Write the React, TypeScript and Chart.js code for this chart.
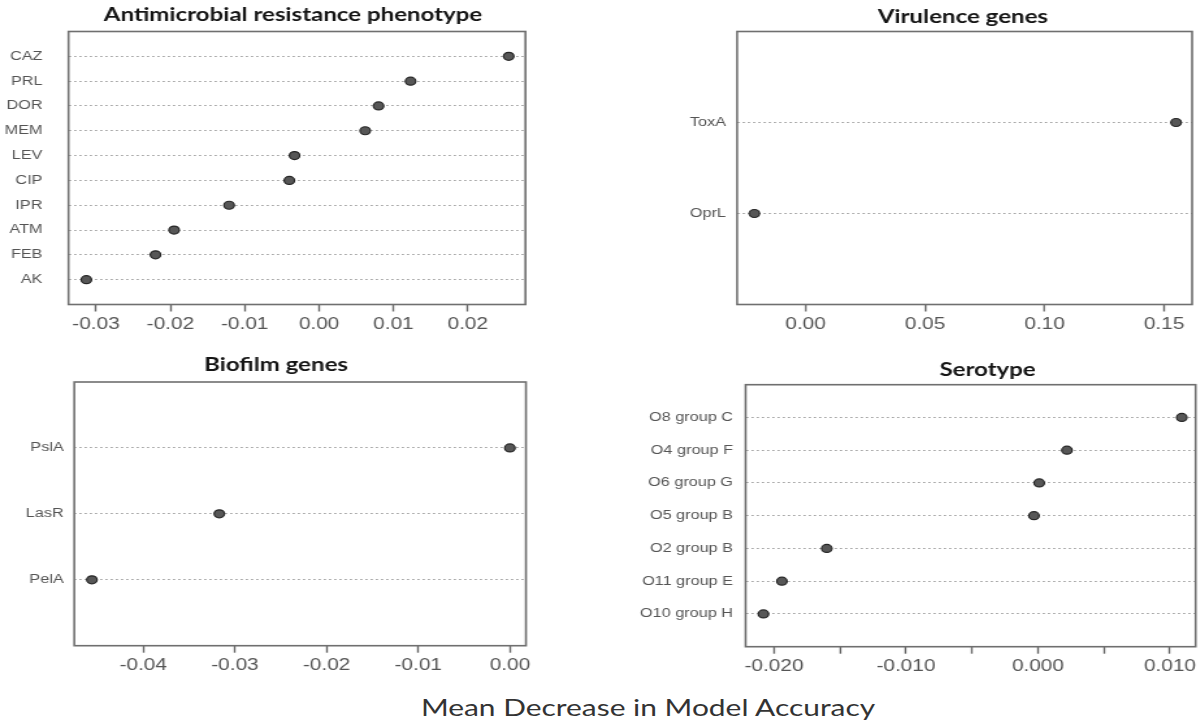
import React, { useEffect, useRef } from 'react';
import { Chart, registerables } from 'chart.js';

Chart.register(...registerables);

// The reference figure is stretched horizontally; we draw narrower and stretch with CSS.
const SX = 1.3;

// ---------- data ----------
const amrLabels = ['CAZ', 'PRL', 'DOR', 'MEM', 'LEV', 'CIP', 'IPR', 'ATM', 'FEB', 'AK'];
const amrValues = [0.0255, 0.0123, 0.008, 0.0062, -0.0033, -0.004, -0.0121, -0.0195, -0.022, -0.0313];
const amrTicks = [-0.03, -0.02, -0.01, 0, 0.01, 0.02];
const amrTickLabels = ['-0.03', '-0.02', '-0.01', '0.00', '0.01', '0.02'];

const virLabels = ['ToxA', 'OprL'];
const virValues = [0.155, -0.0214];
const virTicks = [0, 0.05, 0.1, 0.15];
const virTickLabels = ['0.00', '0.05', '0.10', '0.15'];

const bioLabels = ['PslA', 'LasR', 'PelA'];
const bioValues = [0.0, -0.0317, -0.0456];
const bioTicks = [-0.04, -0.03, -0.02, -0.01, 0];
const bioTickLabels = ['-0.04', '-0.03', '-0.02', '-0.01', '0.00'];

const serLabels = ['O8 group C', 'O4 group F', 'O6 group G', 'O5 group B', 'O2 group B', 'O11 group E', 'O10 group H'];
const serValues = [0.0109, 0.0022, 0.0001, -0.0003, -0.016, -0.0194, -0.0208];
const serTicks = [-0.02, -0.015, -0.01, -0.005, 0, 0.005, 0.01];
const serTickLabels = ['-0.020', '', '-0.010', '', '0.000', '', '0.010'];

const xAxisTitle = 'Mean Decrease in Model Accuracy';

// ---------- layout (page coordinates, stretched space) ----------
type PanelCfg = {
  title: string;
  labels: string[];
  values: number[];
  ticks: number[];
  tickLabels: string[];
  xMin: number;
  xMax: number;
  region: { x: number; y: number; w: number; h: number };
  box: { left: number; top: number; right: number; bottom: number };
  titleX: number;
  titleY: number;
  labelGap: number;
};

const panels: PanelCfg[] = [
  {
    title: 'Antimicrobial resistance phenotype',
    labels: amrLabels, values: amrValues, ticks: amrTicks, tickLabels: amrTickLabels,
    xMin: -0.0337, xMax: 0.02775,
    region: { x: 0, y: 0, w: 580, h: 345 },
    box: { left: 68.5, top: 31.5, right: 525.5, bottom: 304.5 },
    titleX: 293, titleY: 15, labelGap: 26,
  },
  {
    title: 'Virulence genes',
    labels: virLabels, values: virValues, ticks: virTicks, tickLabels: virTickLabels,
    xMin: -0.02865, xMax: 0.1617,
    region: { x: 620, y: 0, w: 582, h: 345 },
    box: { left: 736.7, top: 31.5, right: 1190.7, bottom: 304.5 },
    titleX: 962, titleY: 17, labelGap: 11,
  },
  {
    title: 'Biofilm genes',
    labels: bioLabels, values: bioValues, ticks: bioTicks, tickLabels: bioTickLabels,
    xMin: -0.04752, xMax: 0.00175,
    region: { x: 0, y: 345, w: 580, h: 345 },
    box: { left: 74.3, top: 382, right: 526, bottom: 645.7 },
    titleX: 276, titleY: 365, labelGap: 10.6,
  },
  {
    title: 'Serotype',
    labels: serLabels, values: serValues, ticks: serTicks, tickLabels: serTickLabels,
    xMin: -0.02215, xMax: 0.01195,
    region: { x: 600, y: 345, w: 602, h: 345 },
    box: { left: 745, top: 384.7, right: 1195, bottom: 646.7 },
    titleX: 987, titleY: 370, labelGap: 12.6,
  },
];

const boxPlugin = {
  id: 'panelBox',
  beforeDatasetsDraw(chart: any) {
    const { ctx, chartArea: a } = chart;
    ctx.save();
    ctx.strokeStyle = '#6f6f6f';
    ctx.lineWidth = 1.6;
    ctx.strokeRect(a.left, a.top, a.right - a.left, a.bottom - a.top);
    ctx.restore();
  },
};

function DotPanel({ p }: { p: PanelCfg }) {
  const ref = useRef<HTMLCanvasElement>(null);
  useEffect(() => {
    const n = p.labels.length;
    const r = p.region;
    const padTop = p.box.top - r.y;
    const padRight = (r.x + r.w - p.box.right) / SX;
    const yW = (p.box.left - r.x) / SX;
    const xH = r.y + r.h - p.box.bottom;
    const points = p.values.map((v, i) => ({ x: v, y: n - i }));
    const yTickVals = p.labels.map((_, i) => n - i);

    const titlePlugin = {
      id: 'panelTitle',
      afterDraw(chart: any) {
        const ctx = chart.ctx;
        ctx.save();
        ctx.font = 'bold 18.5px Lato, "Open Sans", sans-serif';
        ctx.fillStyle = '#151515';
        ctx.textAlign = 'center';
        ctx.textBaseline = 'middle';
        ctx.fillText(p.title, (p.titleX - r.x) / SX, p.titleY - r.y);
        ctx.restore();
      },
    };

    const chart = new Chart(ref.current as HTMLCanvasElement, {
      type: 'scatter',
      data: {
        datasets: [
          {
            data: points,
            pointRadius: 4,
            pointHoverRadius: 4,
            pointBackgroundColor: '#575757',
            pointBorderColor: '#262626',
            pointBorderWidth: 1.2,
          },
        ],
      },
      options: {
        animation: false,
        responsive: true,
        maintainAspectRatio: false,
        layout: { padding: { top: padTop, right: padRight, left: 0, bottom: 0 } },
        plugins: {
          legend: { display: false },
          tooltip: { enabled: false },
          title: { display: false },
        },
        scales: {
          x: {
            type: 'linear',
            min: p.xMin,
            max: p.xMax,
            afterBuildTicks: (s: any) => {
              s.ticks = p.ticks.map((v) => ({ value: v }));
            },
            afterFit: (s: any) => {
              s.height = xH;
            },
            grid: {
              drawOnChartArea: false,
              drawTicks: true,
              tickLength: 7,
              tickColor: '#666',
              tickWidth: 1.4,
            },
            border: { display: false },
            ticks: {
              padding: 3,
              color: '#555',
              autoSkip: false,
              maxRotation: 0,
              font: { family: '"Liberation Sans", Arial, sans-serif', size: 16 },
              callback: (_v: any, i: number) => p.tickLabels[i],
            },
          },
          y: {
            type: 'linear',
            min: 0,
            max: n + 1,
            afterBuildTicks: (s: any) => {
              s.ticks = yTickVals.map((v) => ({ value: v }));
            },
            afterFit: (s: any) => {
              s.width = yW;
            },
            grid: { drawTicks: false, color: '#a9a9a9', lineWidth: 1 },
            border: { display: false, dash: [1.8, 2.2] },
            ticks: {
              padding: p.labelGap / SX,
              color: '#555',
              autoSkip: false,
              font: { family: '"Liberation Sans", Arial, sans-serif', size: 12.5 },
              callback: (v: any) => p.labels[n - Number(v)],
            },
          },
        },
      },
      plugins: [boxPlugin, titlePlugin],
    });
    return () => chart.destroy();
  }, [p]);

  const r = p.region;
  return (
    <div
      style={{
        position: 'absolute',
        left: r.x / SX,
        top: r.y,
        width: r.w / SX,
        height: r.h,
      }}
    >
      <canvas ref={ref} />
    </div>
  );
}

export default function App() {
  return (
    <div
      style={{
        position: 'absolute',
        left: 0,
        top: 0,
        width: 1202 / SX,
        height: 723,
        background: '#ffffff',
        transform: `scaleX(${SX})`,
        transformOrigin: '0 0',
        overflow: 'hidden',
      }}
    >
      {panels.map((p) => (
        <DotPanel key={p.title} p={p} />
      ))}
      <div
        style={{
          position: 'absolute',
          left: (648 - 300) / SX,
          width: 600 / SX,
          top: 692,
          height: 30,
          lineHeight: '30px',
          textAlign: 'center',
          fontFamily: 'Lato, "Open Sans", sans-serif',
          fontSize: 23,
          color: '#333',
          whiteSpace: 'nowrap',
        }}
      >
        {xAxisTitle}
      </div>
    </div>
  );
}
